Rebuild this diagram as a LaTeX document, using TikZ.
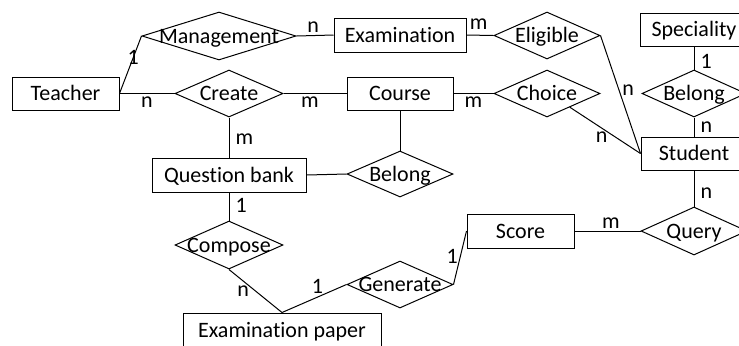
\documentclass[tikz,border=0pt]{standalone}
\usepackage{fontspec}
\setmainfont{Carlito}[Ligatures=NoCommon]
\usetikzlibrary{shapes.geometric}
\tikzset{
  entitate/.style = {draw, line width=0.5pt, minimum height=16.5pt, inner sep=0pt,
                     text height=8pt, text depth=1pt},
  relatie/.style  = {draw, diamond, line width=0.5pt, inner sep=0pt,
                     minimum width=53pt, minimum height=23.5pt},
  cardinal/.style = {inner sep=1.5pt},
  legatura/.style = {line width=0.5pt}
}

\begin{document}
\begin{tikzpicture}[x=0.5pt, y=-0.5pt, font=\fontsize{11}{13}\selectfont,
    every label/.style={text height=8pt, text depth=1pt, inner sep=0pt}]
        \useasboundingbox (0,0) rectangle (739,345);
        \clip (0,0) rectangle (739,345);

        % entitati
        \node[entitate, minimum width=53.5pt] (teacher) at (65.5,93.5) {Teacher};
        \node[entitate, minimum width=66pt, minimum height=17pt] (examination) at (400,35) {Examination};
        \node[entitate, minimum width=53pt] (course) at (400,93.5) {Course};
        \node[entitate, minimum width=77pt, minimum height=17pt] (bank) at (229,175) {Question bank};
        \node[entitate, minimum width=54pt] (speciality) at (694,29.5) {Speciality};
        \node[entitate, minimum width=53pt] (student) at (694,153.5) {Student};
        \node[entitate, minimum width=53.5pt, minimum height=17pt] (score) at (520.5,231) {Score};
        \node[entitate, minimum width=99pt, minimum height=17pt] (paper) at (282,330) {Examination paper};

        % relatii
        \node[relatie, minimum width=77pt, minimum height=24pt, label=center:Management] (management) at (219,36) {};
        \node[relatie, minimum width=54pt, label=center:Create] (create) at (229,93.5) {};
        \node[relatie, label=center:Eligible] (eligible) at (547,35.5) {};
        \node[relatie, label=center:Choice] (choice) at (547,93.5) {};
        \node[relatie, minimum width=52pt, label=center:Belong] (belongs) at (694,93.5) {};
        \node[relatie, minimum height=23pt, label=center:Belong] (belongc) at (400,174) {};
        \node[relatie, minimum width=54pt, minimum height=24pt, label=center:Compose] (compose) at (229,245) {};
        \node[relatie, label=center:Generate] (generate) at (400,284.5) {};
        \node[relatie, minimum height=24pt, label=center:Query] (query) at (694,231) {};

        \draw[legatura] (teacher.east) -- node[cardinal, pos=0.62] {1} (management.west);
        \draw[legatura] (teacher.east) -- node[cardinal, below] {n} (create.west);
        \draw[legatura] (management.east) -- node[cardinal, above, pos=0.45] {n} (examination.west);
        \draw[legatura] (create.east) -- node[cardinal, below, pos=0.42] {m} (course.west);
        \draw[legatura] (create.south) -- node[cardinal, right, pos=0.55, inner sep=3pt] {m} (bank.north);
        \draw[legatura] (examination.east) -- node[cardinal, above, pos=0.45, inner sep=2.5pt] {m} (eligible.west);
        \draw[legatura] (course.east) -- node[cardinal, below] {m} (choice.west);
        \draw[legatura] (course.south) -- (belongc.north);
        \draw[legatura] (bank.east) -- (belongc.west);
        \draw[legatura] (eligible.east) -- node[cardinal, right, pos=0.46] {n} (student.west);
        \draw[legatura] (choice.-31) -- node[cardinal, below, pos=0.45] {n} (student.west);
        \draw[legatura] (speciality.south) -- node[cardinal, right, pos=0.67, inner sep=3pt] {1} (belongs.north);
        \draw[legatura] (belongs.south) -- node[cardinal, right, inner sep=3pt] {n} (student.north);
        \draw[legatura] (student.south) -- node[cardinal, right, pos=0.62, inner sep=3pt] {n} (query.north);
        \draw[legatura] (score.east) -- node[cardinal, above, pos=0.55, inner sep=1pt] {m} (query.west);
        \draw[legatura] (generate.east) -- node[cardinal, left, pos=0.53, inner sep=1pt] {1} (score.west);
        \draw[legatura] (bank.south) -- node[cardinal, right, pos=0.45, inner sep=3pt] {1} (compose.north);
        \draw[legatura] (compose.south) -- node[cardinal, left, inner sep=3pt] {n} (paper.north);
        \draw[legatura] (paper.north) -- node[cardinal, above, pos=0.55] {1} (generate.west);
    \end{tikzpicture}
\end{document}
